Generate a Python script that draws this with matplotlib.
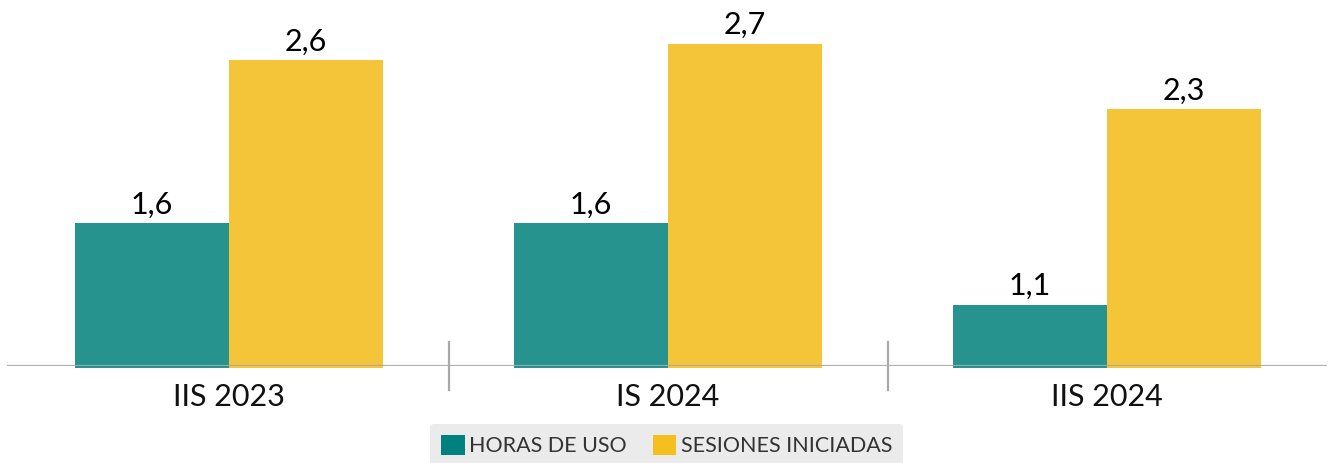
import matplotlib
matplotlib.use("Agg")
import matplotlib.pyplot as plt
from matplotlib.patches import Patch
import matplotlib.transforms as mtransforms

categories = ["IIS 2023", "IS 2024", "IIS 2024"]
horas_de_uso = [1.6, 1.6, 1.1]
sesiones_iniciadas = [2.6, 2.7, 2.3]
series_names = ["HORAS DE USO", "SESIONES INICIADAS"]

teal = "#27938F"
yellow = "#F4C538"
teal_leg = "#00807E"
yellow_leg = "#F5BF1F"

plt.rcParams['font.family'] = ['Lato', 'DejaVu Sans']

W, H, DPI = 1328, 463, 100
fig = plt.figure(figsize=(W / DPI, H / DPI), dpi=DPI)
ax_left, ax_right = 7 / W, 1327 / W
ax_bottom = 1 - 366 / H
ax = fig.add_axes([ax_left, ax_bottom, ax_right - ax_left, 1 - ax_bottom])

y0 = 0.726
ax.set_ylim(y0, y0 + 366 / 163.2)
ax.set_xlim(-0.506, 2.501)

bw = 0.351
xs = list(range(len(categories)))
base = y0 - 0.013
for vals, col, off in [(horas_de_uso, teal, -bw / 2), (sesiones_iniciadas, yellow, bw / 2)]:
    for x, v in zip(xs, vals):
        ax.bar(x + off, v - base, bottom=base, width=bw, color=col, clip_on=False, zorder=2)
        ax.annotate(f"{v:.1f}".replace(".", ","), xy=(x + off, v), xytext=(0, 7),
                    textcoords="offset points", ha="center", va="baseline",
                    fontsize=22, color="#000000", zorder=4)

ax.axhline(y0, color="#a8a8a8", lw=1.6, zorder=3, alpha=0.9)

trans = mtransforms.blended_transform_factory(ax.transData, ax.transAxes)
for sx in [0.5, 1.5]:
    ax.plot([sx, sx], [-24 / 366, 24 / 366], transform=trans, color="#a8a8a8",
            lw=1.6, clip_on=False, zorder=3)

for x, c in zip(xs, categories):
    ax.annotate(c, xy=(x, 0), xycoords=trans, xytext=(0, -29), textcoords="offset points",
                ha="center", va="baseline", fontsize=22, color="#111111")

for s in ax.spines.values():
    s.set_visible(False)
ax.set_xticks([])
ax.set_yticks([])

handles = [Patch(facecolor=teal_leg, edgecolor="none", label=series_names[0]),
           Patch(facecolor=yellow_leg, edgecolor="none", label=series_names[1])]
leg = fig.legend(handles=handles, loc="upper center", bbox_to_anchor=(0.502, 1 - 424 / H),
                 ncol=2, frameon=True, fancybox=True, facecolor="#ebebeb", edgecolor="none",
                 framealpha=1, fontsize=15.5, handlelength=1.1, handleheight=1.1,
                 handletextpad=0.2, columnspacing=1.2, borderpad=0.5, borderaxespad=0)
for t in leg.get_texts():
    t.set_color("#333333")

fig.savefig("out.png", dpi=DPI)
